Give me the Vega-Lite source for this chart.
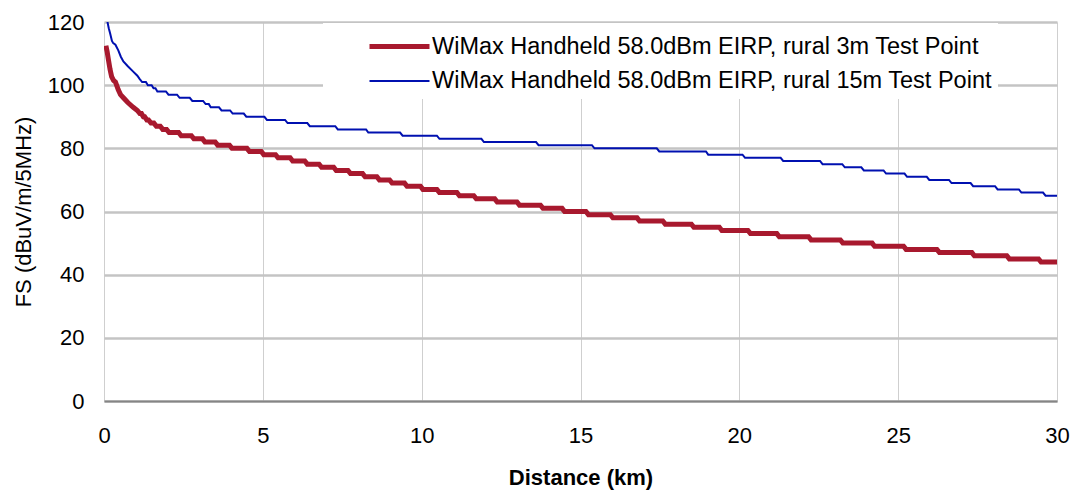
{
  "$schema": "https://vega.github.io/schema/vega-lite/v6.json",
  "width": 953,
  "height": 379,
  "autosize": {"type": "none"},
  "padding": {"left": 104, "top": 22, "right": 19, "bottom": 92},
  "background": "white",
  "config": {
    "view": {"stroke": null},
    "font": "Liberation Sans",
    "axis": {"labelColor": "#000000", "titleColor": "#000000", "labelFont": "Liberation Sans", "titleFont": "Liberation Sans"}
  },
  "data": {
    "values": [
      {"s": "3m", "x": 0.06, "y": 112.5}, {"s": "3m", "x": 0.1, "y": 110.5}, {"s": "3m", "x": 0.14, "y": 108}, {"s": "3m", "x": 0.19, "y": 105}, {"s": "3m", "x": 0.24, "y": 102.7}, {"s": "3m", "x": 0.3, "y": 101.5}, {"s": "3m", "x": 0.36, "y": 101}, {"s": "3m", "x": 0.45, "y": 98.5}, {"s": "3m", "x": 0.52, "y": 97}, {"s": "3m", "x": 0.61, "y": 96}, {"s": "3m", "x": 0.75, "y": 94.5}, {"s": "3m", "x": 0.92, "y": 93}, {"s": "3m", "x": 1.05, "y": 92},
      {"s": "3m", "x": 1.13, "y": 91}, {"s": "3m", "x": 1.18, "y": 91}, {"s": "3m", "x": 1.24, "y": 90}, {"s": "3m", "x": 1.28, "y": 90}, {"s": "3m", "x": 1.35, "y": 89}, {"s": "3m", "x": 1.4, "y": 89}, {"s": "3m", "x": 1.48, "y": 88}, {"s": "3m", "x": 1.57, "y": 88}, {"s": "3m", "x": 1.65, "y": 87}, {"s": "3m", "x": 1.77, "y": 87}, {"s": "3m", "x": 1.85, "y": 86}, {"s": "3m", "x": 1.97, "y": 86}, {"s": "3m", "x": 2.05, "y": 85}, {"s": "3m", "x": 2.35, "y": 85}, {"s": "3m", "x": 2.43, "y": 84}, {"s": "3m", "x": 2.75, "y": 84}, {"s": "3m", "x": 2.83, "y": 83}, {"s": "3m", "x": 3.1, "y": 83}, {"s": "3m", "x": 3.18, "y": 82}, {"s": "3m", "x": 3.5, "y": 82}, {"s": "3m", "x": 3.58, "y": 81}, {"s": "3m", "x": 3.95, "y": 81}, {"s": "3m", "x": 4.03, "y": 80}, {"s": "3m", "x": 4.5, "y": 80}, {"s": "3m", "x": 4.58, "y": 79}, {"s": "3m", "x": 4.95, "y": 79}, {"s": "3m", "x": 5.03, "y": 78}, {"s": "3m", "x": 5.4, "y": 78}, {"s": "3m", "x": 5.48, "y": 77}, {"s": "3m", "x": 5.86, "y": 77}, {"s": "3m", "x": 5.94, "y": 76}, {"s": "3m", "x": 6.32, "y": 76}, {"s": "3m", "x": 6.4, "y": 75}, {"s": "3m", "x": 6.77, "y": 75}, {"s": "3m", "x": 6.85, "y": 74}, {"s": "3m", "x": 7.23, "y": 74}, {"s": "3m", "x": 7.31, "y": 73}, {"s": "3m", "x": 7.68, "y": 73}, {"s": "3m", "x": 7.76, "y": 72}, {"s": "3m", "x": 8.14, "y": 72}, {"s": "3m", "x": 8.22, "y": 71}, {"s": "3m", "x": 8.59, "y": 71}, {"s": "3m", "x": 8.67, "y": 70}, {"s": "3m", "x": 8.99, "y": 70}, {"s": "3m", "x": 9.07, "y": 69}, {"s": "3m", "x": 9.46, "y": 69}, {"s": "3m", "x": 9.54, "y": 68}, {"s": "3m", "x": 9.96, "y": 68}, {"s": "3m", "x": 10.04, "y": 67}, {"s": "3m", "x": 10.48, "y": 67}, {"s": "3m", "x": 10.56, "y": 66}, {"s": "3m", "x": 11.11, "y": 66}, {"s": "3m", "x": 11.19, "y": 65}, {"s": "3m", "x": 11.64, "y": 65}, {"s": "3m", "x": 11.72, "y": 64}, {"s": "3m", "x": 12.3, "y": 64}, {"s": "3m", "x": 12.38, "y": 63}, {"s": "3m", "x": 13.0, "y": 63}, {"s": "3m", "x": 13.08, "y": 62}, {"s": "3m", "x": 13.74, "y": 62}, {"s": "3m", "x": 13.82, "y": 61}, {"s": "3m", "x": 14.42, "y": 61}, {"s": "3m", "x": 14.5, "y": 60}, {"s": "3m", "x": 15.17, "y": 60}, {"s": "3m", "x": 15.25, "y": 59}, {"s": "3m", "x": 15.94, "y": 59}, {"s": "3m", "x": 16.02, "y": 58}, {"s": "3m", "x": 16.78, "y": 58}, {"s": "3m", "x": 16.86, "y": 57}, {"s": "3m", "x": 17.59, "y": 57}, {"s": "3m", "x": 17.67, "y": 56}, {"s": "3m", "x": 18.49, "y": 56}, {"s": "3m", "x": 18.57, "y": 55}, {"s": "3m", "x": 19.37, "y": 55}, {"s": "3m", "x": 19.45, "y": 54}, {"s": "3m", "x": 20.27, "y": 54}, {"s": "3m", "x": 20.35, "y": 53}, {"s": "3m", "x": 21.18, "y": 53}, {"s": "3m", "x": 21.26, "y": 52}, {"s": "3m", "x": 22.18, "y": 52}, {"s": "3m", "x": 22.26, "y": 51}, {"s": "3m", "x": 23.18, "y": 51}, {"s": "3m", "x": 23.26, "y": 50}, {"s": "3m", "x": 24.18, "y": 50}, {"s": "3m", "x": 24.26, "y": 49}, {"s": "3m", "x": 25.17, "y": 49}, {"s": "3m", "x": 25.25, "y": 48}, {"s": "3m", "x": 26.22, "y": 48}, {"s": "3m", "x": 26.3, "y": 47}, {"s": "3m", "x": 27.32, "y": 47}, {"s": "3m", "x": 27.4, "y": 46}, {"s": "3m", "x": 28.42, "y": 46}, {"s": "3m", "x": 28.5, "y": 45}, {"s": "3m", "x": 29.42, "y": 45}, {"s": "3m", "x": 29.5, "y": 44}, {"s": "3m", "x": 30, "y": 44},
      {"s": "15m", "x": 0.1, "y": 120.5}, {"s": "15m", "x": 0.15, "y": 118}, {"s": "15m", "x": 0.19, "y": 116.5}, {"s": "15m", "x": 0.25, "y": 114}, {"s": "15m", "x": 0.29, "y": 113.3}, {"s": "15m", "x": 0.36, "y": 112.8}, {"s": "15m", "x": 0.45, "y": 111}, {"s": "15m", "x": 0.53, "y": 109}, {"s": "15m", "x": 0.61, "y": 107.5}, {"s": "15m", "x": 0.75, "y": 106}, {"s": "15m", "x": 0.92, "y": 104.3}, {"s": "15m", "x": 1.05, "y": 103}, {"s": "15m", "x": 1.12, "y": 102},
      {"s": "15m", "x": 1.2, "y": 101}, {"s": "15m", "x": 1.32, "y": 101}, {"s": "15m", "x": 1.38, "y": 100}, {"s": "15m", "x": 1.5, "y": 100}, {"s": "15m", "x": 1.56, "y": 99}, {"s": "15m", "x": 1.62, "y": 99}, {"s": "15m", "x": 1.68, "y": 98}, {"s": "15m", "x": 1.95, "y": 98}, {"s": "15m", "x": 2.03, "y": 97}, {"s": "15m", "x": 2.3, "y": 97}, {"s": "15m", "x": 2.38, "y": 96}, {"s": "15m", "x": 2.7, "y": 96}, {"s": "15m", "x": 2.78, "y": 95}, {"s": "15m", "x": 3.12, "y": 95}, {"s": "15m", "x": 3.2, "y": 94}, {"s": "15m", "x": 3.3, "y": 94}, {"s": "15m", "x": 3.36, "y": 93}, {"s": "15m", "x": 3.62, "y": 93}, {"s": "15m", "x": 3.7, "y": 92}, {"s": "15m", "x": 3.97, "y": 92}, {"s": "15m", "x": 4.05, "y": 91}, {"s": "15m", "x": 4.4, "y": 91}, {"s": "15m", "x": 4.48, "y": 90}, {"s": "15m", "x": 5.05, "y": 90}, {"s": "15m", "x": 5.13, "y": 89}, {"s": "15m", "x": 5.7, "y": 89}, {"s": "15m", "x": 5.78, "y": 88}, {"s": "15m", "x": 6.4, "y": 88}, {"s": "15m", "x": 6.48, "y": 87}, {"s": "15m", "x": 7.28, "y": 87}, {"s": "15m", "x": 7.36, "y": 86}, {"s": "15m", "x": 8.25, "y": 86}, {"s": "15m", "x": 8.32, "y": 85}, {"s": "15m", "x": 9.32, "y": 85}, {"s": "15m", "x": 9.4, "y": 84}, {"s": "15m", "x": 10.48, "y": 84}, {"s": "15m", "x": 10.56, "y": 83}, {"s": "15m", "x": 11.88, "y": 83}, {"s": "15m", "x": 11.96, "y": 82}, {"s": "15m", "x": 13.6, "y": 82}, {"s": "15m", "x": 13.68, "y": 81}, {"s": "15m", "x": 15.36, "y": 81}, {"s": "15m", "x": 15.44, "y": 80}, {"s": "15m", "x": 17.4, "y": 80}, {"s": "15m", "x": 17.48, "y": 79}, {"s": "15m", "x": 18.95, "y": 79}, {"s": "15m", "x": 19.02, "y": 78}, {"s": "15m", "x": 20.1, "y": 78}, {"s": "15m", "x": 20.18, "y": 77}, {"s": "15m", "x": 21.3, "y": 77}, {"s": "15m", "x": 21.38, "y": 76}, {"s": "15m", "x": 22.54, "y": 76}, {"s": "15m", "x": 22.62, "y": 75}, {"s": "15m", "x": 23.24, "y": 75}, {"s": "15m", "x": 23.32, "y": 74}, {"s": "15m", "x": 23.84, "y": 74}, {"s": "15m", "x": 23.92, "y": 73}, {"s": "15m", "x": 24.54, "y": 73}, {"s": "15m", "x": 24.62, "y": 72}, {"s": "15m", "x": 25.2, "y": 72}, {"s": "15m", "x": 25.28, "y": 71}, {"s": "15m", "x": 25.9, "y": 71}, {"s": "15m", "x": 25.98, "y": 70}, {"s": "15m", "x": 26.6, "y": 70}, {"s": "15m", "x": 26.68, "y": 69}, {"s": "15m", "x": 27.28, "y": 69}, {"s": "15m", "x": 27.36, "y": 68}, {"s": "15m", "x": 28.05, "y": 68}, {"s": "15m", "x": 28.13, "y": 67}, {"s": "15m", "x": 28.8, "y": 67}, {"s": "15m", "x": 28.88, "y": 66}, {"s": "15m", "x": 29.56, "y": 66}, {"s": "15m", "x": 29.64, "y": 65}, {"s": "15m", "x": 30, "y": 65}
    ]
  },
  "mark": {"type": "line", "clip": true, "strokeCap": "butt"},
  "encoding": {
    "x": {
      "field": "x", "type": "quantitative",
      "scale": {"domain": [0, 30], "nice": false},
      "axis": {
        "title": "Distance (km)", "values": [0, 5, 10, 15, 20, 25, 30],
        "grid": true, "gridColor": "#cfcfcf", "gridWidth": 1,
        "ticks": false, "domainColor": "#858585", "domainWidth": 2,
        "labelFontSize": 22, "labelPadding": 24, "labelFlush": false, "labelOverlap": false,
        "titleFontSize": 22, "titleFontWeight": "bold", "titlePadding": 21
      }
    },
    "y": {
      "field": "y", "type": "quantitative",
      "scale": {"domain": [0, 120], "nice": false},
      "axis": {
        "title": "FS (dBuV/m/5MHz)", "values": [0, 20, 40, 60, 80, 100, 120],
        "grid": true, "gridColor": "#c4c4c4", "gridWidth": 2.5,
        "domain": false, "ticks": false,
        "labelFontSize": 22, "labelPadding": 20, "labelFlush": false, "labelOverlap": false,
        "titleFontSize": 22, "titleFontWeight": "normal", "titlePadding": 12
      }
    },
    "color": {
      "field": "s", "type": "nominal",
      "scale": {"domain": ["3m", "15m"], "range": ["#A8192E", "#0010B0"]},
      "legend": {
        "title": null, "orient": "none", "legendX": 219, "legendY": 1,
        "symbolType": "M-1,0H3", "symbolSize": 900, "symbolOffset": 38,
        "labelOffset": 30, "labelFontSize": 23.5, "labelColor": "#000000", "labelLimit": 800,
        "fillColor": "white", "padding": 6, "rowPadding": 7,
        "labelExpr": "datum.label == '3m' ? 'WiMax Handheld 58.0dBm EIRP, rural 3m Test Point' : 'WiMax Handheld 58.0dBm EIRP, rural 15m Test Point'"
      }
    },
    "strokeWidth": {
      "field": "s", "type": "nominal",
      "scale": {"domain": ["3m", "15m"], "range": [5, 2]},
      "legend": {
        "title": null, "orient": "none", "legendX": 219, "legendY": 1,
        "symbolType": "M-1,0H3", "symbolSize": 900, "symbolOffset": 38,
        "labelOffset": 30, "labelFontSize": 23.5, "labelColor": "#000000", "labelLimit": 800,
        "fillColor": "white", "padding": 6, "rowPadding": 7,
        "labelExpr": "datum.label == '3m' ? 'WiMax Handheld 58.0dBm EIRP, rural 3m Test Point' : 'WiMax Handheld 58.0dBm EIRP, rural 15m Test Point'"
      }
    }
  }
}
